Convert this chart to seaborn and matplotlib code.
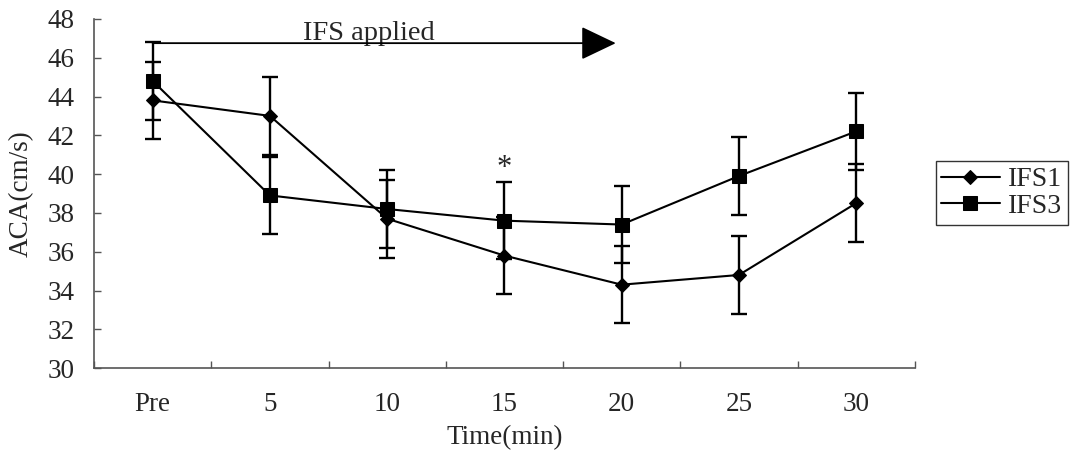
import matplotlib
matplotlib.use("Agg")
import matplotlib.pyplot as plt
import seaborn as sns
import pandas as pd
import numpy as np

# ---- data ----
time_labels = ["Pre", "5", "10", "15", "20", "25", "30"]
ifs1_mean = [43.8, 43.0, 37.7, 35.8, 34.3, 34.8, 38.5]
ifs1_sd = [2.0, 2.0, 2.0, 2.0, 2.0, 2.0, 2.0]
ifs3_mean = [44.8, 38.9, 38.2, 37.6, 37.4, 39.9, 42.2]
ifs3_sd = [2.0, 2.0, 2.0, 2.0, 2.0, 2.0, 2.0]
series_names = ["IFS1", "IFS3"]
y_ticks = [30, 32, 34, 36, 38, 40, 42, 44, 46, 48]

sns.set_theme(style="white")
plt.rcParams["font.family"] = ["Liberation Serif", "DejaVu Serif"]

FS = 19.5

pos = np.arange(len(time_labels))
df = pd.DataFrame({
    "pos": np.concatenate([pos, pos]),
    "value": ifs1_mean + ifs3_mean,
    "series": [series_names[0]] * len(pos) + [series_names[1]] * len(pos),
})

fig = plt.figure(figsize=(10.7, 4.5), dpi=100)
ax = fig.add_axes([0.0879, 0.182, 0.767, 0.776])

# error bars
for m, s in [(ifs1_mean, ifs1_sd), (ifs3_mean, ifs3_sd)]:
    ax.errorbar(pos, m, yerr=s, fmt="none", ecolor="black", elinewidth=1.7,
                capsize=5.5, capthick=1.7, zorder=2)

sns.lineplot(data=df, x="pos", y="value", hue="series", style="series",
             markers={"IFS1": "D", "IFS3": "s"}, dashes=False,
             palette={"IFS1": "black", "IFS3": "black"},
             markersize=9, linewidth=1.5, ax=ax, zorder=3,
             markeredgecolor="black")
for line in ax.get_lines():
    if line.get_marker() == "D":
        line.set_markersize(7.5)
    elif line.get_marker() == "s":
        line.set_markersize(9.5)

ax.set_xlim(-0.5, len(time_labels) - 0.5)
ax.set_ylim(30, 48)
ax.set_yticks(y_ticks)
ax.set_yticklabels([str(t) for t in y_ticks], fontsize=FS)
ax.set_xticks(pos)
ax.set_xticklabels(time_labels, fontsize=FS)
ax.tick_params(axis="x", which="major", length=0, pad=17)
ax.tick_params(axis="y", length=5, width=1, direction="in", left=True, pad=14, color="#555555")
# minor x ticks at category boundaries (upward)
ax.set_xticks(np.arange(-0.5, len(time_labels), 1.0), minor=True)
ax.tick_params(axis="x", which="minor", length=5, direction="in", bottom=True, width=1, color="#555555")

for sp in ["top", "right"]:
    ax.spines[sp].set_visible(False)
for sp in ["left", "bottom"]:
    ax.spines[sp].set_color("#555555")
    ax.spines[sp].set_linewidth(1.2)

ax.set_xlabel("Time(min)", fontsize=FS, labelpad=6)
ax.set_ylabel("ACA(cm/s)", fontsize=FS, labelpad=10)

# arrow and annotation
ax.annotate("", xy=(3.95, 46.75), xytext=(0.0, 46.75),
            arrowprops=dict(arrowstyle="-|>,head_length=2.2,head_width=1.05",
                            color="black", lw=1.3, shrinkA=0, shrinkB=0,
                            mutation_scale=10), zorder=4)
ax.text(1.84, 46.92, "IFS applied", ha="center", va="baseline", fontsize=FS + 1)
ax.text(3.0, 40.3, "*", ha="center", va="center", fontsize=22)

leg = ax.legend(handles=ax.get_legend_handles_labels()[0],
                labels=series_names, loc="upper left",
                bbox_to_anchor=(1.0256, 0.592), frameon=True, fontsize=FS + 0.5,
                handlelength=2.1, handletextpad=0.3, borderpad=0.2,
                labelspacing=0.05, fancybox=False, borderaxespad=0)
leg.get_frame().set_edgecolor("black")
leg.get_frame().set_linewidth(1.0)

fig.savefig("out.png", dpi=100)
